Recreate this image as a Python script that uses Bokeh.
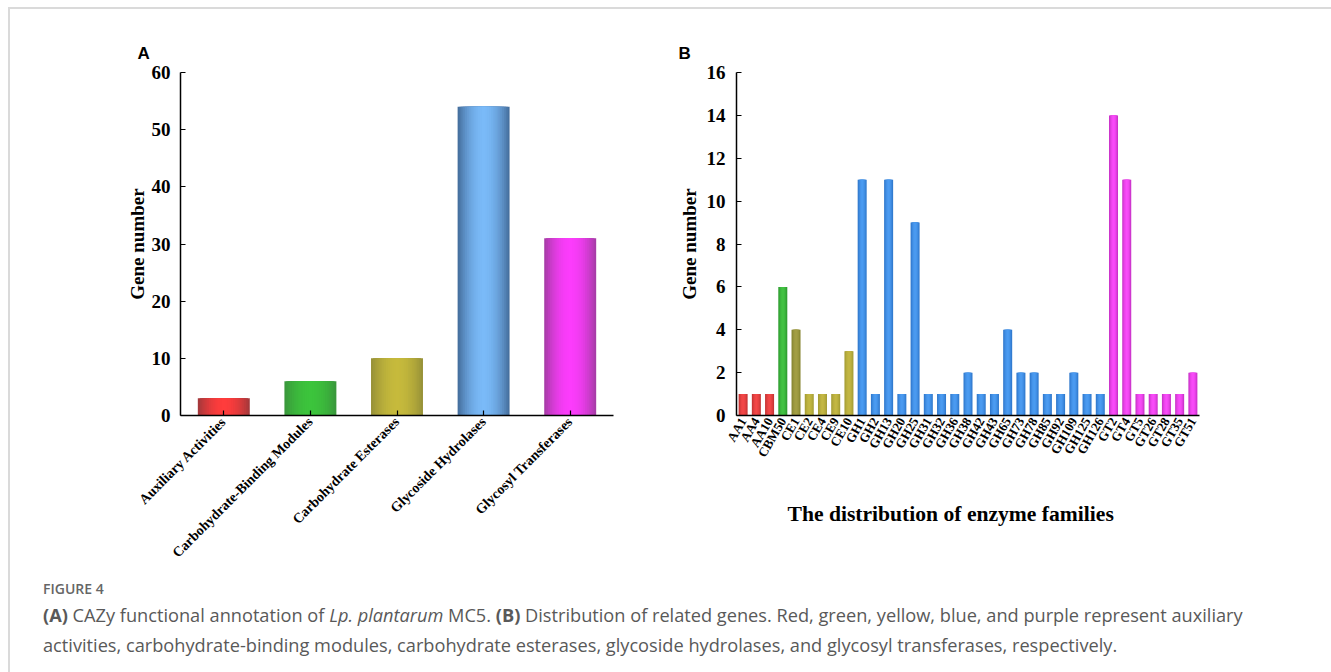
import math
from bokeh.plotting import figure
from bokeh.models import ColumnDataSource, Div, FactorRange, Range1d, SingleIntervalTicker, Title
from bokeh.layouts import column, row
from bokeh.embed import file_html
from bokeh.resources import INLINE

# ---------------- data ----------------
categories = ["Auxiliary Activities", "Carbohydrate-Binding Modules",
              "Carbohydrate Esterases", "Glycoside Hydrolases", "Glycosyl Transferases"]
category_counts = [3, 6, 10, 54, 31]

families = ["AA1", "AA4", "AA10", "CBM50", "CE1", "CE2", "CE4", "CE9", "CE10",
            "GH1", "GH2", "GH13", "GH20", "GH25", "GH31", "GH32", "GH36", "GH38",
            "GH42", "GH43", "GH65", "GH73", "GH78", "GH85", "GH92", "GH109",
            "GH125", "GH126", "GT2", "GT4", "GT5", "GT26", "GT28", "GT35", "GT51"]
family_counts = [1, 1, 1, 6, 4, 1, 1, 1, 3,
                 11, 1, 11, 1, 9, 1, 1, 1, 2,
                 1, 1, 4, 2, 2, 1, 1, 2,
                 1, 1, 14, 11, 1, 1, 1, 1, 2]
family_class = ["AA", "AA", "AA", "CBM", "CE", "CE", "CE", "CE", "CE",
                "GH", "GH", "GH", "GH", "GH", "GH", "GH", "GH", "GH",
                "GH", "GH", "GH", "GH", "GH", "GH", "GH", "GH",
                "GH", "GH", "GT", "GT", "GT", "GT", "GT", "GT", "GT"]

# ---------------- styles ----------------
A_edge = ["#a5383b", "#3a983c", "#989238", "#46709f", "#a83ca8"]
A_center = ["#ff3c3c", "#3cc43c", "#c6ba3c", "#7abaf8", "#fc3cfc"]
B_edge = {"AA": "#c43434", "CBM": "#2e9c30", "CE": "#a49c34", "GH": "#2f78cc", "GT": "#c832c8"}
B_center = {"AA": "#f44848", "CBM": "#44c444", "CE": "#c4b844", "GH": "#4c9cf2", "GT": "#fa4cfa"}
B_special_edge = {"CE1": "#868430"}
B_special_center = {"CE1": "#a4a044"}

SERIF = "Liberation Serif"
SANS = "Liberation Sans"


def hex2rgb(h):
    h = h.lstrip("#")
    return tuple(int(h[i:i + 2], 16) for i in (0, 2, 4))


def mix(c1, c2, t):
    a, b = hex2rgb(c1), hex2rgb(c2)
    return "#%02x%02x%02x" % tuple(int(round(a[i] + (b[i] - a[i]) * t)) for i in range(3))


def shaded_bars(p, xs, tops, edges, centers, width, n):
    for i in range(n):
        w = 1 - i / n
        t = 1 - w ** 2
        cols = [mix(e, c, t) for e, c in zip(edges, centers)]
        src = ColumnDataSource(dict(x=xs, top=tops, color=cols))
        p.vbar(x="x", top="top", bottom=0, width=width * w, source=src,
               fill_color="color", line_color=None)


def style_axes(p):
    for ax in (p.xaxis[0], p.yaxis[0]):
        ax.axis_line_color = "black"
        ax.axis_line_width = 1.5
        ax.major_tick_line_color = "black"
        ax.major_tick_line_width = 1.2
        ax.major_tick_in = 5
        ax.major_tick_out = 0
        ax.minor_tick_line_color = None
        ax.major_label_text_font = SERIF
        ax.major_label_text_font_style = "bold"
        ax.major_label_text_color = "black"
        ax.axis_label_text_font = SERIF
        ax.axis_label_text_font_style = "bold"
        ax.axis_label_text_color = "black"
    p.yaxis[0].major_label_text_font_size = "19px"
    p.yaxis[0].axis_label_text_font_size = "19px"
    p.xgrid.grid_line_color = None
    p.ygrid.grid_line_color = None
    p.outline_line_color = None
    p.background_fill_color = "white"
    p.border_fill_color = "white"


def panel_title(p, letter, offset):
    p.title.text = letter
    p.title.align = "left"
    p.title.offset = offset
    p.title.text_font = SANS
    p.title.text_font_style = "bold"
    p.title.text_font_size = "17px"
    p.title.text_color = "black"
    p.title.standoff = 19


# ---------------- panel A ----------------
pA = figure(x_range=FactorRange(factors=categories), y_range=Range1d(0, 60),
            width=652, height=571, min_border_left=170, min_border_right=49,
            min_border_top=63, min_border_bottom=165,
            output_backend="svg", toolbar_location=None)
shaded_bars(pA, categories, category_counts, A_edge, A_center, 0.6, 14)
style_axes(pA)
pA.yaxis[0].ticker = SingleIntervalTicker(interval=10)
pA.yaxis[0].axis_label = "Gene number"
pA.yaxis[0].axis_label_standoff = 1
pA.yaxis[0].major_label_standoff = 6
pA.xaxis[0].major_label_orientation = math.pi / 4
pA.xaxis[0].major_label_text_font_size = "14px"
pA.xaxis[0].major_label_standoff = 4
panel_title(pA, "A", -43)

# ---------------- panel B ----------------
b_edges = [B_special_edge.get(f, B_edge[c]) for f, c in zip(families, family_class)]
b_centers = [B_special_center.get(f, B_center[c]) for f, c in zip(families, family_class)]

pB = figure(x_range=FactorRange(factors=families), y_range=Range1d(0, 16),
            width=639, height=571, min_border_left=74, min_border_right=102,
            min_border_top=63, min_border_bottom=165,
            output_backend="svg", toolbar_location=None)
shaded_bars(pB, families, family_counts, b_edges, b_centers, 0.68, 6)
style_axes(pB)
pB.yaxis[0].ticker = SingleIntervalTicker(interval=2)
pB.yaxis[0].axis_label = "Gene number"
pB.yaxis[0].axis_label_standoff = 4
pB.yaxis[0].major_label_standoff = 7
pB.xaxis[0].major_tick_line_color = None
pB.xaxis[0].major_label_orientation = math.pi / 3
pB.xaxis[0].major_label_text_font_size = "13px"
pB.xaxis[0].major_label_standoff = 3
pB.add_layout(Title(text="The distribution of enzyme families", align="left", offset=51,
                    text_font=SERIF, text_font_style="bold", text_font_size="21.6px",
                    text_color="black", standoff=70, vertical_align="top"), "below")
panel_title(pB, "B", -58)

# ---------------- caption ----------------
caption = Div(text=(
    "<div style=\"font-family:'Open Sans',sans-serif;color:#595959;padding-left:28px;margin-top:-5px;\">"
    "<div style=\"font-size:14px;font-weight:600;line-height:18px;color:#666;\">FIGURE 4</div>"
    "<div style=\"font-size:18.2px;line-height:30px;margin-top:2px;white-space:nowrap;\">"
    "<b>(A)</b> CAZy functional annotation of <i>Lp. plantarum</i> MC5. <b>(B)</b> Distribution of "
    "related genes. Red, green, yellow, blue, and purple represent auxiliary<br>"
    "activities, carbohydrate-binding modules, carbohydrate esterases, glycoside hydrolases, "
    "and glycosyl transferases, respectively.</div></div>"),
    width=1321, height=86)

layout = column(row(pA, pB), caption, margin=(7, 0, 0, 8),
                styles={"border-top": "2px solid #dadada", "border-left": "2px solid #dadada"})

open("out.html", "w").write(file_html(layout, INLINE))
